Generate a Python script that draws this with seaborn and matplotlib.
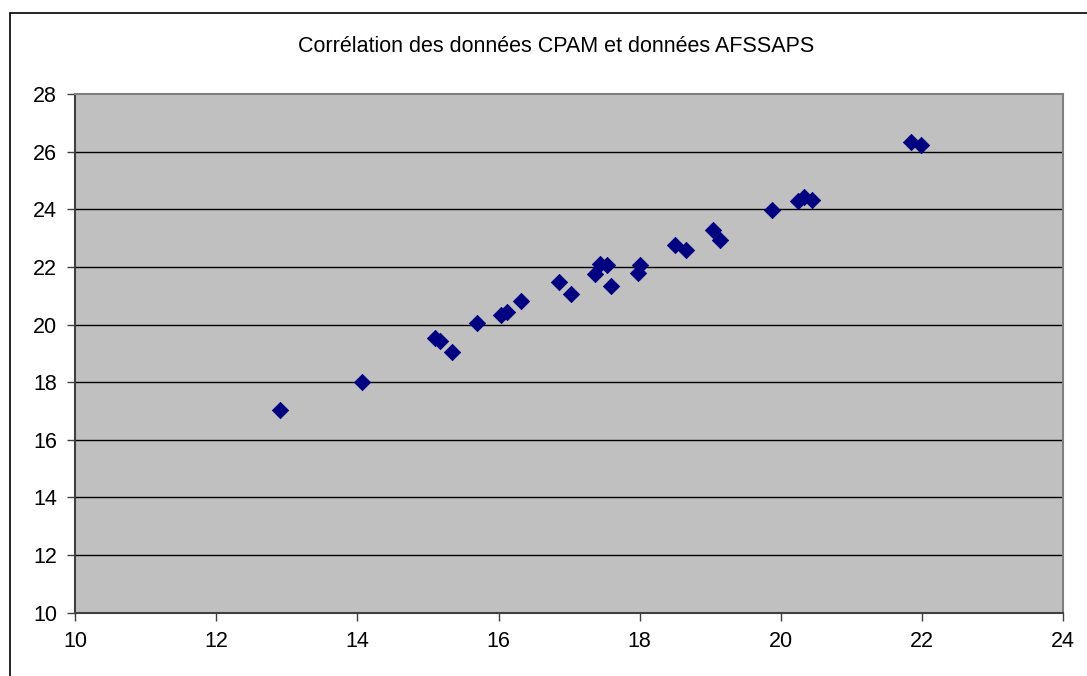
import matplotlib
matplotlib.use("Agg")
import matplotlib.pyplot as plt
import seaborn as sns
import pandas as pd
from matplotlib.patches import Rectangle

# values
cpam = [12.91, 14.07, 15.10, 15.17, 15.34, 15.70, 16.04, 16.12, 16.32,
        16.85, 17.03, 17.37, 17.44, 17.53, 17.59, 17.98, 18.00, 18.50,
        18.66, 19.04, 19.13, 19.88, 20.24, 20.33, 20.44, 21.84, 21.98]
afssaps = [17.03, 17.99, 19.55, 19.42, 19.04, 20.04, 20.33, 20.44, 20.82,
           21.46, 21.05, 21.76, 22.11, 22.05, 21.35, 21.79, 22.05, 22.76,
           22.59, 23.28, 22.93, 23.97, 24.30, 24.44, 24.33, 26.34, 26.23]
x_ticks = [10, 12, 14, 16, 18, 20, 22, 24]
y_ticks = [10, 12, 14, 16, 18, 20, 22, 24, 26, 28]
title = "Corrélation des données CPAM et données AFSSAPS"

df = pd.DataFrame({"cpam": cpam, "afssaps": afssaps})

sns.set_style("white")
plt.rcParams["font.family"] = ["Liberation Sans", "DejaVu Sans"]
plt.rcParams["text.color"] = "black"
plt.rcParams["xtick.color"] = "black"
plt.rcParams["ytick.color"] = "black"

fig = plt.figure(figsize=(10.87, 6.76), dpi=100)
ax = fig.add_axes([75 / 1087, 1 - 612.7 / 676, (1063.3 - 75) / 1087, (612.7 - 94) / 676])
ax.set_facecolor("#C0C0C0")

# outer chart frame
fig.patches.append(Rectangle((10 / 1087, -0.05), 1.1, 1 - 13 / 676 + 0.05,
                             transform=fig.transFigure, fill=False,
                             edgecolor="black", linewidth=1.2))

ax.set_axisbelow(True)
for yv in y_ticks[1:-1]:
    ax.axhline(yv, color="black", linewidth=1.0, zorder=1)

sns.scatterplot(data=df, x="cpam", y="afssaps", marker="D", s=70,
                color="#000080", edgecolor="#000080", linewidth=0.5,
                ax=ax, zorder=3)

ax.set_xlim(10, 24)
ax.set_ylim(10, 28)
ax.set_xticks(x_ticks)
ax.set_yticks(y_ticks)
ax.set_xlabel("")
ax.set_ylabel("")
ax.tick_params(axis="both", direction="out", length=6, width=1,
               color="#404040", labelcolor="black", labelsize=15.5,
               pad=7, left=True, bottom=True)

for side in ["left", "bottom"]:
    ax.spines[side].set_color("#404040")
    ax.spines[side].set_linewidth(1.5)
for side in ["top", "right"]:
    ax.spines[side].set_color("#808080")
    ax.spines[side].set_linewidth(1.5)

fig.text(556 / 1087, 1 - 47 / 676, title, ha="center", va="center",
         fontsize=15.5, color="black")

fig.savefig("out.png", dpi=100)
